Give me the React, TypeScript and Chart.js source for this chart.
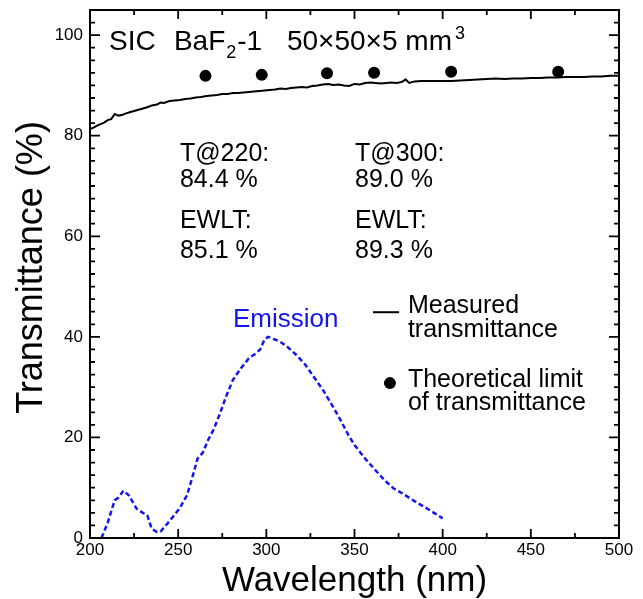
import React, { useEffect, useRef } from 'react';
import { Chart, registerables } from 'chart.js';

Chart.register(...registerables);

// Measured transmittance (nm, %)
const measuredWavelength = [
  200, 202, 204, 206, 208, 210, 212, 214, 216, 218, 220, 223, 226, 229, 232, 235, 238, 240, 242, 245,
  248, 251, 254, 257, 260, 263, 266, 269, 272, 275, 278, 281, 284, 287, 290, 293, 296, 299, 302, 305,
  308, 311, 314, 317, 320, 323, 326, 329, 332, 335, 338, 341, 344, 347, 350, 353, 356, 359, 362, 365,
  368, 371, 374, 377, 379, 381, 384, 388, 392, 396, 400, 405, 410, 415, 420, 425, 430, 435, 440, 445,
  450, 455, 460, 465, 470, 475, 480, 485, 490, 495, 500,
];
const measuredTransmittance = [
  81.3, 81.6, 82.0, 82.3, 82.6, 83.1, 83.3, 84.3, 84.0, 84.1, 84.4, 84.7, 85.0, 85.3, 85.6, 86.0, 86.2, 86.6, 86.5, 86.9,
  87.0, 87.1, 87.3, 87.4, 87.6, 87.7, 87.9, 88.0, 88.1, 88.3, 88.3, 88.5, 88.5, 88.6, 88.7, 88.8, 88.9, 89.0, 89.1, 89.2,
  89.4, 89.3, 89.5, 89.6, 89.7, 89.6, 89.9, 90.0, 90.2, 90.3, 90.1, 90.2, 90.0, 89.9, 90.3, 90.2, 90.5, 90.6, 90.5, 90.4,
  90.5, 90.6, 90.5, 90.7, 91.2, 90.5, 90.8, 90.9, 90.9, 90.9, 90.9, 90.9, 91.0, 91.1, 91.2, 91.3, 91.4, 91.3, 91.4, 91.4,
  91.5, 91.5, 91.6, 91.6, 91.7, 91.7, 91.7, 91.8, 91.8, 91.9, 91.9,
];

// Emission spectrum (nm, arbitrary units on % axis)
const emissionWavelength = [
  206.5, 210, 214, 216, 219, 222, 226.5, 230, 232.5, 235, 238, 240, 243, 247, 251, 255, 258, 261, 264, 267,
  270, 274, 277, 281, 285, 290, 294, 296.5, 299, 301, 304, 308, 312, 317, 322, 327, 332, 338, 342, 346.5,
  350, 356, 362.6, 367, 372, 377, 381.5, 386, 391, 396, 400,
];
const emissionIntensity = [
  0, 3, 7.5, 8, 9.4, 8.5, 5.8, 5, 4.5, 1.8, 1.2, 1.3, 2.5, 4.2, 6, 8.5, 12, 15.8, 17, 19.5,
  21.5, 25, 28, 31.4, 33.5, 35.7, 36.7, 37.5, 39.5, 40, 39.6, 39, 38, 36.4, 34.5, 32, 29.5, 26, 23.5, 20.5,
  18.5, 15.8, 13.2, 11.5, 9.9, 8.9, 7.9, 6.9, 5.9, 4.8, 3.9,
];

// Theoretical limit of transmittance
const theoryWavelength = [265.5, 297.4, 334.4, 361.1, 404.8, 465.5];
const theoryTransmittance = [91.9, 92.1, 92.4, 92.5, 92.7, 92.7];

// Axis ticks
const xTickValues = [200, 250, 300, 350, 400, 450, 500];
const yTickValues = [0, 20, 40, 60, 80, 100];
const xMin = 200;
const xMax = 500;
const yMin = 0;
const yMax = 105;

const yAxisTitle = 'Transmittance (%)';
const xAxisTitle = 'Wavelength (nm)';

const FONT = '"Liberation Sans", Arial, Helvetica, sans-serif';

const decorPlugin = {
  id: 'decor',
  afterDraw(chart: any) {
    const { ctx, chartArea, scales } = chart;
    const xs = scales.x;
    const ys = scales.y;
    const px = (v: number) => xs.getPixelForValue(v);
    const py = (v: number) => ys.getPixelForValue(v);
    const { left, right, top, bottom } = chartArea;
    ctx.save();
    // frame
    ctx.strokeStyle = '#000';
    ctx.lineWidth = 2;
    ctx.strokeRect(left, top, right - left, bottom - top);
    // ticks, pointing inward on all four sides
    ctx.lineWidth = 1.8;
    ctx.beginPath();
    for (let v = xMin; v <= xMax; v += 25) {
      const len = v % 50 === 0 ? 9 : 5;
      const x = px(v);
      ctx.moveTo(x, bottom);
      ctx.lineTo(x, bottom - len);
      ctx.moveTo(x, top);
      ctx.lineTo(x, top + len);
    }
    for (let v = yMin; v <= yMax; v += 2.5) {
      const len = v % 20 === 0 ? 10 : 5;
      const y = py(v);
      ctx.moveTo(left, y);
      ctx.lineTo(left + len, y);
      ctx.moveTo(right, y);
      ctx.lineTo(right - len, y);
    }
    ctx.stroke();

    // y axis title
    ctx.fillStyle = '#000';
    ctx.save();
    ctx.translate(32, (py(yMin) + py(yMax)) / 2 - 6.5);
    ctx.rotate(-Math.PI / 2);
    ctx.textAlign = 'center';
    ctx.textBaseline = 'middle';
    ctx.font = `36px ${FONT}`;
    ctx.fillText(yAxisTitle, 0, 0);
    ctx.restore();

    // Title with subscript and superscript
    ctx.textBaseline = 'alphabetic';
    ctx.textAlign = 'left';
    const tb = py(97.0);
    ctx.font = `28px ${FONT}`;
    ctx.fillText('SIC', px(210.8), tb);
    let cx = px(247.6);
    ctx.fillText('BaF', cx, tb);
    cx += ctx.measureText('BaF').width + 1;
    ctx.font = `18px ${FONT}`;
    ctx.fillText('2', cx, tb + 8);
    cx += ctx.measureText('2').width + 1;
    ctx.font = `28px ${FONT}`;
    ctx.fillText('-1', cx, tb);
    cx = px(311.7);
    ctx.fillText('50\u00d750\u00d75 mm', cx, tb);
    cx += ctx.measureText('50\u00d750\u00d75 mm').width + 3;
    ctx.font = `18px ${FONT}`;
    ctx.fillText('3', cx, tb - 11);

    // annotations
    ctx.font = `25px ${FONT}`;
    ctx.fillText('T@220:', px(251.0), py(74.95));
    ctx.fillText('84.4 %', px(251.0), py(69.8));
    ctx.fillText('EWLT:', px(251.0), py(61.6));
    ctx.fillText('85.1 %', px(251.0), py(55.7));
    ctx.fillText('T@300:', px(350.3), py(74.95));
    ctx.fillText('89.0 %', px(350.3), py(69.8));
    ctx.fillText('EWLT:', px(350.3), py(61.6));
    ctx.fillText('89.3 %', px(350.3), py(55.7));

    // Emission label
    ctx.fillStyle = '#1414ee';
    ctx.font = `26px ${FONT}`;
    ctx.fillText('Emission', px(281.1), py(41.9));

    // Legend
    ctx.fillStyle = '#000';
    ctx.strokeStyle = '#000';
    ctx.lineWidth = 2;
    ctx.beginPath();
    ctx.moveTo(px(360.5), py(44.9));
    ctx.lineTo(px(375.3), py(44.9));
    ctx.stroke();
    ctx.font = `25px ${FONT}`;
    ctx.fillText('Measured', px(380.3), py(44.7));
    ctx.fillText('transmittance', px(380.3), py(40.0));
    ctx.beginPath();
    ctx.arc(px(370.1), py(30.8), 6, 0, Math.PI * 2);
    ctx.fill();
    ctx.fillText('Theoretical limit', px(380.3), py(30.0));
    ctx.fillText('of transmittance', px(380.3), py(25.4));
    ctx.restore();
  },
};

export default function App() {
  const canvasRef = useRef<HTMLCanvasElement | null>(null);

  useEffect(() => {
    const canvas = canvasRef.current;
    if (!canvas) return;
    const chart = new Chart(canvas, {
      type: 'scatter',
      data: {
        datasets: [
          {
            label: 'Emission',
            data: emissionWavelength.map((x, i) => ({ x, y: emissionIntensity[i] })),
            showLine: true,
            borderColor: '#1414ee',
            borderWidth: 2.5,
            borderDash: [5, 3],
            pointRadius: 0,
            tension: 0,
          },
          {
            label: 'Measured transmittance',
            data: measuredWavelength.map((x, i) => ({ x, y: measuredTransmittance[i] })),
            showLine: true,
            borderColor: '#000',
            borderWidth: 2,
            pointRadius: 0,
            tension: 0,
          },
          {
            label: 'Theoretical limit of transmittance',
            data: theoryWavelength.map((x, i) => ({ x, y: theoryTransmittance[i] })),
            showLine: false,
            backgroundColor: '#000',
            borderColor: '#000',
            pointRadius: 6,
            pointBorderWidth: 0,
          },
        ],
      },
      options: {
        responsive: false,
        animation: false,
        devicePixelRatio: 1,
        layout: { padding: { left: 0, top: 10, right: 24, bottom: 0 } },
        plugins: {
          legend: { display: false },
          tooltip: { enabled: false },
        },
        scales: {
          x: {
            type: 'linear',
            min: xMin,
            max: xMax,
            grid: { display: false, drawTicks: false },
            border: { display: false },
            afterBuildTicks: (scale: any) => {
              scale.ticks = xTickValues.map((v) => ({ value: v }));
            },
            afterFit: (scale: any) => {
              scale.height = 61;
              scale.paddingLeft = 0;
              scale.paddingRight = 0;
            },
            ticks: {
              color: '#000',
              padding: 4,
              maxRotation: 0,
              autoSkip: false,
              font: { family: FONT, size: 17, lineHeight: 1 },
            },
            title: {
              display: true,
              text: xAxisTitle,
              color: '#000',
              padding: 0,
              font: { family: FONT, size: 35, lineHeight: 1 },
            },
          },
          y: {
            type: 'linear',
            min: yMin,
            max: yMax,
            grid: { display: false, drawTicks: false },
            border: { display: false },
            afterBuildTicks: (scale: any) => {
              scale.ticks = yTickValues.map((v) => ({ value: v }));
            },
            afterFit: (scale: any) => {
              scale.width = 90;
              scale.paddingTop = 0;
              scale.paddingBottom = 0;
            },
            ticks: {
              color: '#000',
              padding: 7,
              autoSkip: false,
              font: { family: FONT, size: 17, lineHeight: 1 },
            },
            title: { display: false },
          },
        },
      },
      plugins: [decorPlugin],
    });
    return () => chart.destroy();
  }, []);

  return (
    <div style={{ position: 'absolute', left: 0, top: 0, width: 643, height: 599, background: '#fff' }}>
      <canvas ref={canvasRef} width={643} height={599} />
    </div>
  );
}
